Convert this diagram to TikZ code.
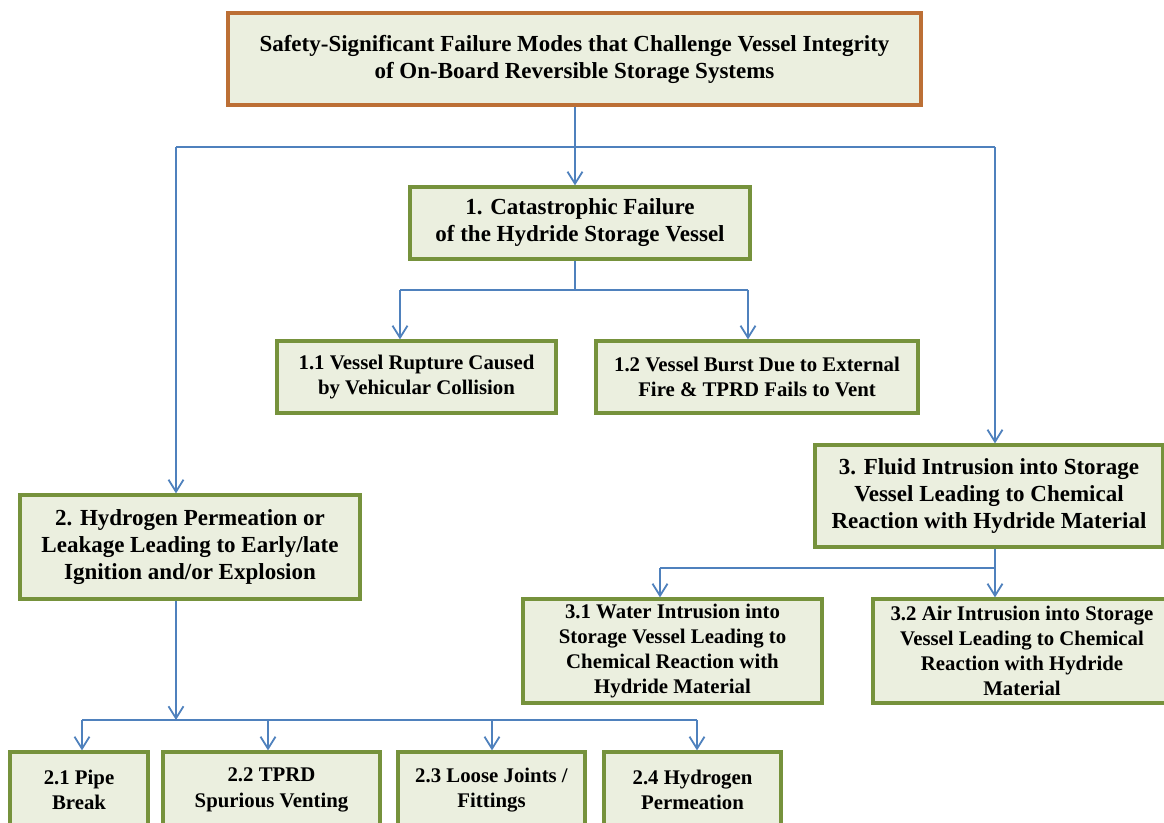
\documentclass[tikz,border=0pt]{standalone}
\usepackage{fontspec}
\setmainfont{Liberation Serif}
\usetikzlibrary{arrows.meta}

\definecolor{modefill}{HTML}{EBEFDF}
\definecolor{modegreen}{HTML}{76923C}
\definecolor{modeorange}{HTML}{BC6F35}
\definecolor{linkblue}{HTML}{4F81BD}

\tikzset{
  mode/.style={draw=modegreen, line width=1.6pt, fill=modefill, align=center,
    inner sep=0pt, font=\fontsize{10.4}{12.6}\selectfont\bfseries},
  bigmode/.style={mode, font=\fontsize{11.5}{13.5}\selectfont\bfseries},
  topmode/.style={bigmode, draw=modeorange},
  link/.style={draw=linkblue, line width=0.9pt},
  arr/.style={link, -{Straight Barb[length=6pt,width=7.5pt,line width=0.9pt]}},
}

\begin{document}
\begin{tikzpicture}[x=0.5pt, y=-0.5pt]

\useasboundingbox (0,0) rectangle (1164,823);

%boxes
\node[topmode, minimum width=346.5pt, minimum height=46pt] (top) at (574.5,59)
  {Safety-Significant Failure Modes that Challenge Vessel Integrity\\of On-Board Reversible Storage Systems};

\node[bigmode, minimum width=170pt, minimum height=36pt] (m1) at (580,223)
  {1. Catastrophic Failure\\of the Hydride Storage Vessel};
\node[mode, minimum width=139.5pt, minimum height=36pt] (m11) at (416.5,377)
  {1.1 Vessel Rupture Caused\\by Vehicular Collision};
\node[mode, minimum width=161pt, minimum height=36pt] (m12) at (757,377)
  {1.2 Vessel Burst Due to External\\Fire \& TPRD Fails to Vent};

\node[bigmode, minimum width=170pt, minimum height=52pt] (m2) at (190,547)
  {2. Hydrogen Permeation or\\Leakage Leading to Early/late\\Ignition and/or Explosion};
\node[mode, minimum width=69pt, minimum height=38pt] (m21) at (79,790)
  {2.1 Pipe\\Break};
\node[mode, minimum width=108.5pt, minimum height=38pt] (m22) at (271.5,790)
  {2.2 TPRD\\Spurious Venting};
\node[mode, minimum width=93.5pt, minimum height=38pt] (m23) at (491.5,790)
  {2.3 Loose Joints /\\Fittings};
\node[mode, minimum width=88.5pt, minimum height=38pt] (m24) at (692.5,790)
  {2.4 Hydrogen\\Permeation};

\node[bigmode, minimum width=174pt, minimum height=51pt] (m3) at (989,496)
  {3. Fluid Intrusion into Storage\\Vessel Leading to Chemical\\Reaction with Hydride Material};
\node[mode, minimum width=149.5pt, minimum height=52pt] (m31) at (672.5,651)
  {3.1 Water Intrusion into\\Storage Vessel Leading to\\Chemical Reaction with\\Hydride Material};
\node[mode, minimum width=149pt, minimum height=52pt] (m32) at (1022,651)
  {3.2 Air Intrusion into Storage\\Vessel Leading to Chemical\\Reaction with Hydride\\Material};

%bus points
\coordinate (t0) at (575,147);
\coordinate (tl) at (176,147);
\coordinate (tr) at (995,147);
\coordinate (b1) at (575,290);
\coordinate (b1l) at (400,290);
\coordinate (b1r) at (748,290);
\coordinate (b3) at (995,568);
\coordinate (b3l) at (660,568);
\coordinate (b2) at (176,720);
\coordinate (b2l) at (82,720);
\coordinate (b2r) at (697,720);

%top level links
\draw[link] (top.south -| t0) -- (t0);
\draw[link] (tl) -- (tr);
\draw[arr] (t0) -- (t0 |- m1.north);
\draw[arr] (tl) -- (tl |- m2.north);
\draw[arr] (tr) -- (tr |- m3.north);

%branch 1
\draw[link] (m1.south -| b1) -- (b1);
\draw[link] (b1l) -- (b1r);
\draw[arr] (b1l) -- (b1l |- m11.north);
\draw[arr] (b1r) -- (b1r |- m12.north);

%branch 3
\draw[link] (m3.south -| b3) -- (b3);
\draw[link] (b3l) -- (b3);
\draw[arr] (b3l) -- (b3l |- m31.north);
\draw[arr] (b3) -- (b3 |- m32.north);

%branch 2
\draw[arr] (m2.south -| b2) -- (b2);
\draw[link] (b2l) -- (b2r);
\foreach \n/\x in {m21/82, m22/268, m23/492, m24/697}{
  \draw[arr] (\x,720) -- (\x,720 |- \n.north);
}

\end{tikzpicture}
\end{document}
